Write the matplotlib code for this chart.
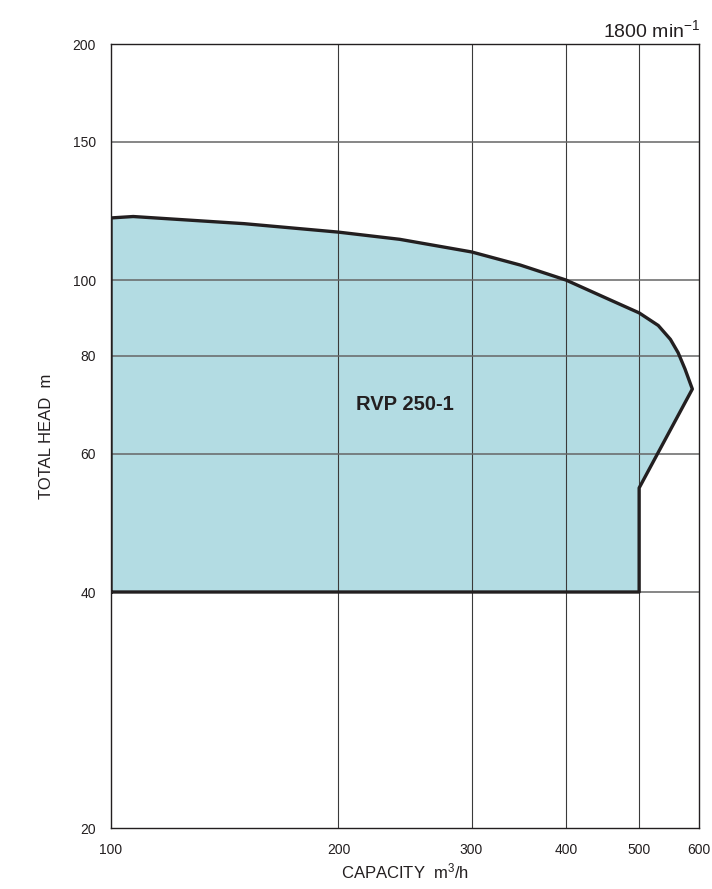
import matplotlib
matplotlib.use("Agg")
import matplotlib.pyplot as plt
from matplotlib.ticker import FixedLocator, NullLocator

plt.rcParams['font.family'] = ['Liberation Sans', 'DejaVu Sans']
plt.rcParams['mathtext.default'] = 'regular'

# operating range outline (capacity m3/h, head m)
cap = [100, 100, 107, 150, 200, 241, 300, 348, 400, 458, 500, 530, 550, 563, 575, 588,
       500, 500, 100]
head = [40, 120, 120.5, 118, 115.1, 112.7, 108.6, 104.5, 100, 94.3, 90.8, 87.5, 84, 80.8, 77, 72.6,
        54.3, 40, 40]

x_ticks = [100, 200, 300, 400, 500, 600]
y_ticks = [20, 40, 60, 80, 100, 150, 200]
model = "RVP 250-1"

fig = plt.figure(figsize=(7.12, 8.89), dpi=100)
ax = fig.add_axes([0.1559, 0.0686, 0.8258, 0.8819])
ax.set_xscale('log')
ax.set_yscale('log')
ax.set_xlim(100, 600)
ax.set_ylim(20, 200)

ax.fill(cap, head, color='#b3dce3', zorder=1)
ax.plot(cap, head, color='#231f20', lw=2.4, solid_joinstyle='round', zorder=3)

ax.xaxis.set_major_locator(FixedLocator(x_ticks))
ax.yaxis.set_major_locator(FixedLocator(y_ticks))
ax.xaxis.set_minor_locator(NullLocator())
ax.yaxis.set_minor_locator(NullLocator())
ax.set_xticklabels([str(v) for v in x_ticks])
ax.set_yticklabels([str(v) for v in y_ticks])
ax.tick_params(length=0, labelsize=10, colors='#231f20')
ax.tick_params(axis='x', pad=11)
ax.tick_params(axis='y', pad=11)

for v in x_ticks[1:-1]:
    ax.axvline(v, color='#3a3a3a', lw=0.8, zorder=2)
for v in y_ticks[1:-1]:
    ax.axhline(v, color='#666666', lw=1.1, zorder=2)
for s in ax.spines.values():
    s.set_color('#231f20')
    s.set_linewidth(1.0)

ax.text(245, 69.3, model, fontsize=14.5, fontweight='bold', ha='center', va='center',
        color='#231f20', zorder=4)

ax.set_xlabel('CAPACITY  m$^3$/h', fontsize=12, labelpad=3, color='#231f20')
ax.set_ylabel('TOTAL HEAD  m', fontsize=12, labelpad=13, color='#231f20')
fig.text(0.983, 0.954, '1800 min$^{-1}$', fontsize=14, ha='right', va='bottom',
         color='#231f20')

fig.savefig('out.png', dpi=100)
